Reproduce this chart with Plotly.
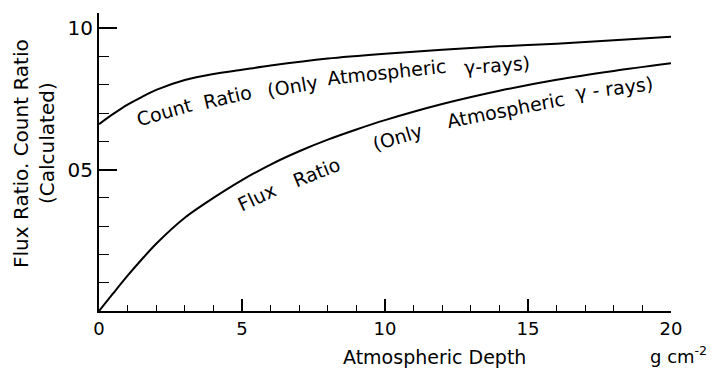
import plotly.graph_objects as go

# ---- data ----
depth_count = [0, 0.5, 1, 1.5, 2, 3, 4, 5, 6, 8, 10, 12, 14, 16, 18, 20]
count_ratio = [0.661, 0.697, 0.730, 0.757, 0.782, 0.817, 0.838, 0.853, 0.868,
               0.893, 0.910, 0.924, 0.936, 0.945, 0.958, 0.970]

depth_flux = [0, 0.5, 1, 1.5, 2, 3, 4, 5, 6, 7, 8, 9, 10, 12, 14, 16, 18, 20]
flux_ratio = [0.0, 0.063, 0.125, 0.183, 0.238, 0.330, 0.400, 0.463, 0.518, 0.565,
              0.606, 0.642, 0.675, 0.732, 0.779, 0.818, 0.849, 0.876]

x_tickvals = [0, 5, 10, 15, 20]
x_ticktext = ["0", "5", "10", "15", "20"]
y_tickvals = [0.5, 1.0]
y_ticktext = ["05", "10"]
y_minor = [0.1, 0.2, 0.3, 0.4, 0.6, 0.7, 0.8, 0.9]

count_words = ["Count", "Ratio", "(Only", "Atmospheric", "γ-rays)"]
count_word_x = [2.27, 4.48, 6.78, 10.05, 13.9]
count_word_y = [0.704, 0.757, 0.796, 0.845, 0.870]
count_word_angle = [-16, -13, -10, -6, -4]

flux_words = ["Flux", "Ratio", "(Only", "Atmospheric", "γ - rays)"]
flux_word_x = [5.52, 7.62, 10.45, 14.2, 18.0]
flux_word_y = [0.403, 0.492, 0.615, 0.711, 0.789]
flux_word_angle = [-25, -22, -17, -11, -7]

FONT = "DejaVu Sans"

fig = go.Figure()
fig.add_trace(go.Scatter(x=depth_count, y=count_ratio, mode="lines",
                         line=dict(color="black", width=2, shape="spline", smoothing=0.8),
                         showlegend=False, hoverinfo="skip"))
fig.add_trace(go.Scatter(x=depth_flux, y=flux_ratio, mode="lines",
                         line=dict(color="black", width=2, shape="spline", smoothing=0.8),
                         showlegend=False, hoverinfo="skip"))

annotations = []
for w, x, y, a in zip(count_words, count_word_x, count_word_y, count_word_angle):
    annotations.append(dict(text=w, x=x, y=y, xref="x", yref="y", showarrow=False,
                            textangle=a, font=dict(family=FONT, size=19, color="black"),
                            xanchor="center", yanchor="middle"))
for w, x, y, a in zip(flux_words, flux_word_x, flux_word_y, flux_word_angle):
    annotations.append(dict(text=w, x=x, y=y, xref="x", yref="y", showarrow=False,
                            textangle=a, font=dict(family=FONT, size=19, color="black"),
                            xanchor="center", yanchor="middle"))

# axis titles as annotations (pixel -> paper conversions)
L, R, T, B = 99, 43, 13, 58
W, H = 714 - L - R, 369 - T - B
def px(xp):
    return (xp - L) / W
def py(yp):
    return (369 - B - yp) / H

annotations.append(dict(text="Flux Ratio. Count Ratio", x=px(21), y=py(154), xref="paper", yref="paper",
                        showarrow=False, textangle=-90, xanchor="center", yanchor="middle",
                        font=dict(family=FONT, size=20, color="black")))
annotations.append(dict(text="(Calculated)", x=px(47), y=py(143), xref="paper", yref="paper",
                        showarrow=False, textangle=-90, xanchor="center", yanchor="middle",
                        font=dict(family=FONT, size=20, color="black")))
annotations.append(dict(text="Atmospheric Depth", x=px(434), y=py(357), xref="paper", yref="paper",
                        showarrow=False, xanchor="center", yanchor="middle",
                        font=dict(family=FONT, size=19, color="black")))
annotations.append(dict(text="g cm<sup>-2</sup>", x=px(678), y=py(355), xref="paper", yref="paper",
                        showarrow=False, xanchor="center", yanchor="middle",
                        font=dict(family=FONT, size=18, color="black")))

fig.update_layout(
    width=714, height=369,
    margin=dict(l=L, r=R, t=T, b=B, pad=0),
    paper_bgcolor="white", plot_bgcolor="white",
    font=dict(family=FONT, color="black"),
    annotations=annotations,
    showlegend=False,
)
fig.update_xaxes(range=[0, 20], showgrid=False, zeroline=False,
                 showline=True, linecolor="black", linewidth=2,
                 ticks="inside", tickvals=x_tickvals, ticktext=x_ticktext,
                 ticklen=12, tickwidth=1.5, tickcolor="black",
                 tickfont=dict(family=FONT, size=18, color="black"),
                 minor=dict(ticks="inside", dtick=1, tick0=0, ticklen=6, tickwidth=1, tickcolor="black"))
fig.update_yaxes(range=[0, 1.054], showgrid=False, zeroline=False,
                 showline=True, linecolor="black", linewidth=2,
                 ticks="inside", tickvals=y_tickvals, ticktext=y_ticktext,
                 ticklen=18, tickwidth=1.5, tickcolor="black",
                 tickfont=dict(family=FONT, size=20, color="black"),
                 minor=dict(ticks="inside", tickmode="array", tickvals=y_minor,
                            ticklen=10, tickwidth=1, tickcolor="black"))

fig.write_html("out.html")
